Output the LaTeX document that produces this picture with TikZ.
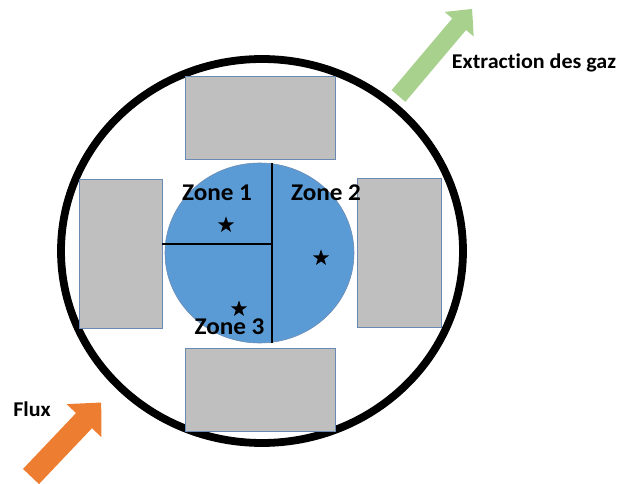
\documentclass[tikz,border=0pt]{standalone}
\usepackage{fontspec}
\setmainfont{Carlito}[FakeStretch=1.05,Ligatures=NoCommon]
\usetikzlibrary{shapes.geometric}
\definecolor{grayfill}{HTML}{BFBFBF}
\definecolor{edgeblue}{HTML}{6A8AB3}
\definecolor{coreblue}{HTML}{5B9BD5}
\definecolor{greenarrow}{HTML}{A9D18E}
\definecolor{orangearrow}{HTML}{ED7D31}
\begin{document}
\begin{tikzpicture}[x=1pt,y=-1pt,
  block/.style={draw=edgeblue,line width=0.8pt,fill=grayfill,inner sep=0pt,outer sep=0pt},
  zonelabel/.style={font=\bfseries\fontsize{24}{24}\selectfont,inner sep=0pt},
  sidelabel/.style={font=\bfseries\fontsize{21}{21}\selectfont,inner sep=0pt},
  starmark/.style={star,star points=5,star point ratio=2.5,fill=black,inner sep=0pt,minimum size=17pt},
  divider/.style={line width=2.8pt,black}]
\clip (0,0) rectangle (622,484);
% outer ring
\node[draw,line width=7.8pt,ellipse,minimum width=402pt,minimum height=384pt,inner sep=0pt] (ring) at (262,251) {};
% blocks
\node[block,minimum width=150pt,minimum height=83pt] (topblk) at (260,117.5) {};
\node[block,minimum width=150pt,minimum height=83pt] (botblk) at (260,389.5) {};
\node[block,minimum width=83pt,minimum height=149pt] (leftblk) at (120.5,253.5) {};
\node[block,minimum width=84pt,minimum height=149pt] (rightblk) at (399,252.5) {};
% core
\node[ellipse,fill=coreblue,draw=edgeblue,line width=0.6pt,minimum width=189pt,minimum height=180pt,inner sep=0pt] (core) at (259.5,253) {};
% dividers
\coordinate (vtop) at (272,163);
\coordinate (vbot) at (272,343);
\coordinate (hmid) at (272,244);
\draw[divider] (vtop) -- (vbot);
\draw[divider] (leftblk.east |- hmid) -- (hmid);
% stars
\node[starmark] (s1) at (226,225) {};
\node[starmark] (s2) at (321,258) {};
\node[starmark] (s3) at (239,309) {};
% zone labels
\node[zonelabel] (z1) at (217,193) {Zone 1};
\node[zonelabel] (z2) at (326,193) {Zone 2};
\node[zonelabel] (z3) at (229.5,327) {Zone 3};
% arrows
\begin{scope}[shift={(398.5,96)},rotate=49.8]
\fill[greenarrow] (0,-9) -- (94,-9) -- (94,-19) -- (114,0) -- (94,19) -- (94,9) -- (0,9) -- cycle;
\end{scope}
\begin{scope}[shift={(31,476.5)},rotate=46.5]
\fill[orangearrow] (0,-11) -- (77,-11) -- (77,-24) -- (102,0) -- (77,24) -- (77,11) -- (0,11) -- cycle;
\end{scope}
\node[sidelabel] (gaz) at (534,63) {Extraction des gaz};
\node[sidelabel] (flux) at (32,409) {Flux};
\end{tikzpicture}
\end{document}
